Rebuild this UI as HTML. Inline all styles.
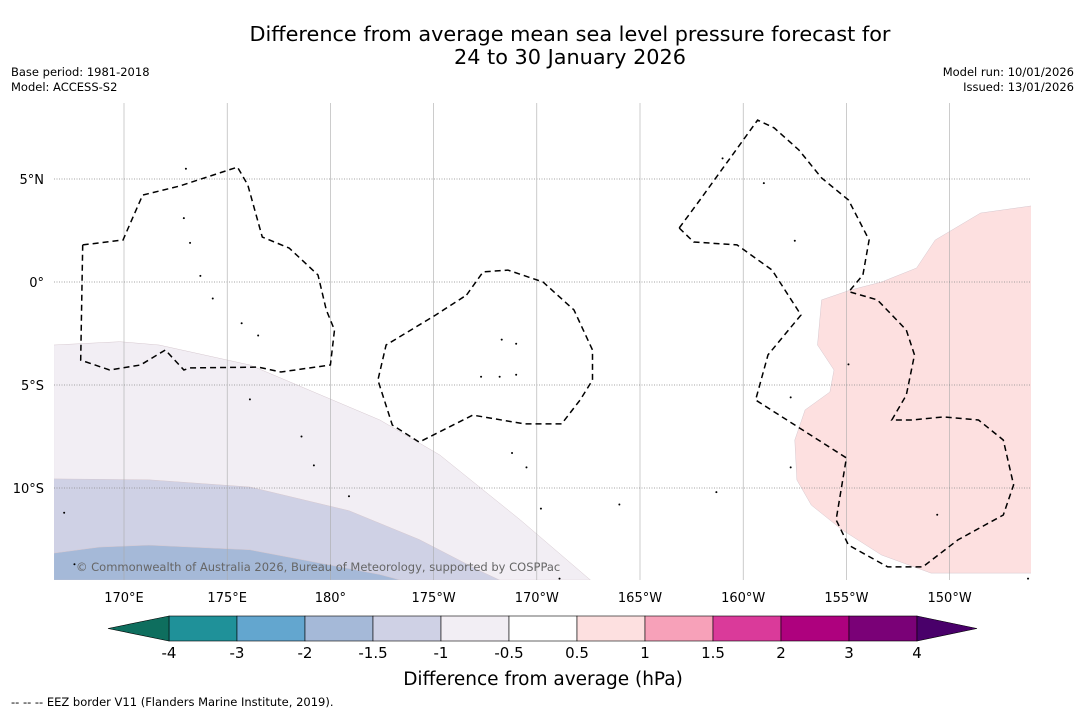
<!DOCTYPE html>
<html><head><meta charset="utf-8"><style>
body{margin:0;background:#fff;font-family:"Liberation Sans","DejaVu Sans",sans-serif}
svg text{font-family:"DejaVu Sans","Liberation Sans",sans-serif}
</style></head><body>
<svg id="c" width="1085" height="713" xmlns="http://www.w3.org/2000/svg">
<rect width="1085" height="713" fill="#fff"/>
<text x="570" y="41" font-size="20.8" text-anchor="middle">Difference from average mean sea level pressure forecast for</text>
<text x="570" y="64" font-size="20.8" text-anchor="middle">24 to 30 January 2026</text>
<text x="11" y="76" font-size="11.5">Base period: 1981-2018</text>
<text x="11" y="91" font-size="11.5">Model: ACCESS-S2</text>
<text x="1074" y="76" font-size="11.5" text-anchor="end">Model run: 10/01/2026</text>
<text x="1074" y="91" font-size="11.5" text-anchor="end">Issued: 13/01/2026</text>
<g id="map"></g>
<g id="cb"></g>
<text x="543" y="685" font-size="18.5" text-anchor="middle">Difference from average (hPa)</text>
<text x="11" y="706" font-size="11.5">--  --  -- EEZ border V11 (Flanders Marine Institute, 2019).</text>
</svg>
<script>
const lonTicks=[170,175,180,185,190,195,200,205,210];
const lonLabels=["170°E","175°E","180°","175°W","170°W","165°W","160°W","155°W","150°W"];
const latTicks=[5,0,-5,-10];
const latLabels=["5°N","0°","5°S","10°S"];
const levels=[-4,-3,-2,-1.5,-1,-0.5,0.5,1,1.5,2,3,4];
const levelLabels=["-4","-3","-2","-1.5","-1","-0.5","0.5","1","1.5","2","3","4"];
const levelColors=["#1f9199","#63a6cf","#a5b9d8","#cfd1e5","#f2eef4","#ffffff","#fde0e0","#f7a1b9","#da3a9a","#ae017e","#7a0177"];
const extendColors=["#0e6e5e","#49006a"];
const shadeLight=[[166.6,-3.06],[169.8,-2.9],[171.7,-3.06],[176.1,-4.03],[182.4,-6.7],[185.3,-8.4],[189.2,-11.55],[192.6,-14.47],[166.6,-14.47]];
const shadeMid=[[166.6,-9.56],[171.2,-9.6],[176.1,-9.95],[180.9,-11.1],[184.3,-12.5],[187.2,-14.0],[188.2,-14.47],[166.6,-14.47]];
const shadeBlue=[[166.6,-13.16],[168.8,-12.87],[171.2,-12.77],[176.1,-13.0],[180.0,-13.74],[182.4,-14.2],[183.4,-14.47],[166.6,-14.47]];
const shadePink=[[214,3.7],[211.5,3.35],[209.3,2.04],[208.4,0.68],[206.7,0],[205.2,-0.39],[203.8,-0.87],[203.6,-3.06],[204.4,-4.27],[204.2,-5.34],[203.0,-6.21],[202.5,-7.67],[202.6,-9.61],[203.3,-10.83],[204.8,-12.04],[206.7,-13.25],[209.1,-14.13],[214,-14.13]];
const eez1=[[168.0,1.8],[169.95,2.04],[170.9,4.22],[172.7,4.66],[175.5,5.58],[176.0,4.71],[176.7,2.18],[178.0,1.65],[179.4,0.34],[179.8,-1.36],[180.2,-2.33],[180.0,-4.03],[177.6,-4.37],[176.5,-4.13],[173.2,-4.17],[172.9,-4.27],[172.0,-3.3],[170.8,-4.03],[169.3,-4.27],[167.9,-3.79],[168.0,1.8]];
const eez2=[[186.6,-0.63],[187.4,0.49],[188.6,0.58],[190.3,0],[191.8,-1.36],[192.7,-3.3],[192.7,-4.76],[192.1,-5.73],[191.2,-6.89],[189.4,-6.89],[186.9,-6.46],[184.3,-7.77],[183.0,-6.94],[182.3,-4.76],[182.7,-3.06],[185.1,-1.6],[186.6,-0.63]];
const eez3=[[196.9,2.62],[197.9,3.98],[200.7,7.86],[201.5,7.48],[202.7,6.41],[203.8,5.05],[205.1,3.98],[206.1,2.04],[205.8,0.34],[205.1,-0.49]];
const eez4=[[196.9,2.62],[197.6,1.94],[199.7,1.8],[201.4,0.58],[202.8,-1.6],[201.2,-3.54],[200.6,-5.73],[205.0,-8.54],[204.5,-11.55],[205.1,-12.77],[207.0,-13.83],[208.7,-13.83],[210.4,-12.52],[212.6,-11.31],[213.1,-9.85],[212.6,-7.67],[211.4,-6.7],[209.7,-6.55],[208.2,-6.7],[207.2,-6.7],[207.9,-5.49],[208.3,-3.54],[207.9,-2.33],[206.5,-0.87],[205.2,-0.49]];
const islands=[[173.0,5.5],[172.9,3.1],[173.2,1.9],[173.7,0.3],[174.3,-0.8],[175.7,-2.0],[176.5,-2.6],[176.1,-5.7],[178.6,-7.5],[179.2,-8.9],[180.9,-10.4],[187.3,-4.6],[188.2,-4.6],[189.0,-4.5],[188.3,-2.8],[189.0,-3.0],[188.8,-8.3],[189.5,-9.0],[190.2,-11.0],[194.0,-10.8],[198.7,-10.2],[201.0,4.8],[202.5,2.0],[205.1,-4.0],[202.3,-9.0],[209.4,-11.3],[213.8,-14.4],[167.1,-11.2],[167.6,-13.7],[191.1,-14.4],[199.0,6.0],[202.3,-5.6]];
const X=lon=>124+(lon-170)*20.64;
const Y=lat=>282-lat*20.6;
const NS="http://www.w3.org/2000/svg";
function mk(tag,attrs,parent){const e=document.createElementNS(NS,tag);for(const k in attrs)e.setAttribute(k,attrs[k]);parent.appendChild(e);return e;}
const map=document.getElementById('map');
const defs=mk('defs',{},map);
const cp=mk('clipPath',{id:'clip'},defs);
mk('rect',{x:54,y:103,width:977,height:477},cp);
const g=mk('g',{'clip-path':'url(#clip)'},map);
function pts(a){return a.map(p=>X(p[0]).toFixed(1)+','+Y(p[1]).toFixed(1)).join(' ');}
const shades=[[shadeLight,levelColors[4],'shade-minus-1'],[shadeMid,levelColors[3],'shade-minus-1-5'],[shadeBlue,levelColors[2],'shade-minus-2'],[shadePink,levelColors[6],'shade-plus-0-5']];
shades.forEach(s=>{const p=mk('polygon',{points:pts(s[0]),fill:s[1],stroke:'#d6c8cf','stroke-width':0.5},g);

});
lonTicks.forEach((l,i)=>{const ln=mk('line',{x1:X(l),x2:X(l),y1:103,y2:580,stroke:'#aaa','stroke-width':0.6},g);


const t=mk('text',{x:X(l),y:602,'font-size':13,'text-anchor':'middle'},document.getElementById('c'));t.textContent=lonLabels[i];

});
latTicks.forEach((l,i)=>{const ln=mk('line',{x1:54,x2:1031,y1:Y(l),y2:Y(l),stroke:'#888','stroke-width':0.7,'stroke-dasharray':'1,1.5'},g);


const t=mk('text',{x:44,y:Y(l)+5,'font-size':13,'text-anchor':'end'},document.getElementById('c'));t.textContent=latLabels[i];

});
[eez1,eez2,eez3,eez4].forEach(e=>{const p=mk('polyline',{points:pts(e),fill:'none',stroke:'#000','stroke-width':1.5,'stroke-dasharray':'6,4'},g);

});
islands.forEach(p=>{const c=mk('circle',{cx:X(p[0]),cy:Y(p[1]),r:1,fill:'#000'},g);

});
const cr=mk('text',{x:76,y:571,'font-size':11.5,fill:'#666'},g);cr.textContent='© Commonwealth of Australia 2026, Bureau of Meteorology, supported by COSPPac';


const cb=document.getElementById('cb');
const CX0=169,CX1=917,CY=616,CH=25;
const CBX=i=>CX0+i*(CX1-CX0)/(levels.length-1);
levelColors.forEach((col,i)=>{const r=mk('rect',{x:CBX(i),y:CY,width:CBX(i+1)-CBX(i),height:CH,fill:col,stroke:'#000','stroke-width':0.6},cb);

});
const tl=mk('polygon',{points:`${CX0},${CY} 108,${CY+CH/2} ${CX0},${CY+CH}`,fill:extendColors[0],stroke:'#000','stroke-width':0.6},cb);


const tr=mk('polygon',{points:`${CX1},${CY} 977,${CY+CH/2} ${CX1},${CY+CH}`,fill:extendColors[1],stroke:'#000','stroke-width':0.6},cb);


levelLabels.forEach((l,i)=>{const t=mk('text',{x:CBX(i),y:658,'font-size':15,'text-anchor':'middle'},cb);t.textContent=l;

});
</script>
</body></html>
